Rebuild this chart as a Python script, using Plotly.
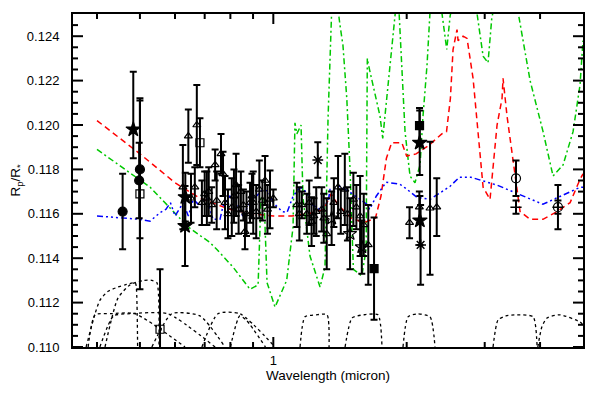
import math
import plotly.graph_objects as go

# ---------------- model curves ----------------
red_wl = [0.400, 0.500, 0.600, 0.683, 0.798, 0.900, 1.00, 1.10, 1.20, 1.30, 1.35, 1.40, 1.50, 1.60, 1.70,
          1.75, 1.80, 1.85, 1.95, 2.00, 2.10, 2.25, 2.40, 2.46, 2.51, 2.545, 2.598, 2.612, 2.681, 2.737,
          2.824, 2.899, 2.975, 3.084, 3.133, 3.199, 3.283, 3.30, 3.369, 3.458, 3.549, 3.605, 3.80, 4.06,
          4.37, 4.675, 4.923, 5.00]
red_val = [0.1202, 0.1187, 0.1174, 0.1167, 0.1162, 0.1160, 0.1159, 0.1159, 0.1160, 0.1162, 0.1169, 0.1164,
           0.1158, 0.1156, 0.1158, 0.1168, 0.1185, 0.1192, 0.1192, 0.1186, 0.1187, 0.1191, 0.1196, 0.1197,
           0.1212, 0.1234, 0.1243, 0.1238, 0.1240, 0.1239, 0.1221, 0.1197, 0.1172, 0.11665, 0.1180, 0.1200,
           0.1212, 0.1221, 0.1204, 0.1188, 0.1170, 0.1161, 0.11575, 0.11575, 0.1161, 0.1165, 0.11755, 0.1178]

green_wl = [0.400, 0.527, 0.643, 0.720, 0.745, 0.811, 0.886, 0.924, 0.938, 0.953, 0.968, 1.009, 1.072,
            1.108, 1.119, 1.130, 1.155, 1.167, 1.210, 1.275, 1.308, 1.329, 1.354, 1.38, 1.414, 1.436,
            1.465, 1.490, 1.516, 1.584, 1.620, 1.630, 1.640, 1.679, 1.741, 1.766, 1.803, 1.834, 1.882,
            1.91, 1.949, 1.983, 2.035, 2.088, 2.144, 2.177, 2.223, 2.258, 2.33, 2.400, 2.463, 2.506,
            2.70, 2.879, 2.975, 3.052, 3.112, 3.35, 3.567, 3.798, 4.063, 4.279, 4.508, 4.748, 4.923, 5.0]
green_val = [0.1189, 0.1172, 0.1154, 0.1147, 0.1144, 0.1136, 0.1126, 0.1128, 0.1167, 0.1167, 0.1129,
             0.1118, 0.1130, 0.1154, 0.1201, 0.1196, 0.1200, 0.1167, 0.1141, 0.1127, 0.1136, 0.1203,
             0.1251, 0.1262, 0.1245, 0.1236, 0.1212, 0.1180, 0.1135, 0.1132, 0.1144, 0.1230, 0.1227,
             0.1218, 0.1204, 0.1194, 0.1212, 0.1230, 0.1251, 0.1262, 0.1227, 0.1197, 0.1177, 0.1174,
             0.1182, 0.1204, 0.1227, 0.1251, 0.1265, 0.1251, 0.1234, 0.1249, 0.1280, 0.1251, 0.1231,
             0.1228, 0.1248, 0.1280, 0.1251, 0.1220, 0.1197, 0.1177, 0.1182, 0.1197, 0.1218, 0.1238]

blue_wl = [0.400, 0.500, 0.527, 0.555, 0.572, 0.586, 0.600, 0.626, 0.643, 0.660, 0.683, 0.707, 0.731,
           0.758, 0.770, 0.798, 0.827, 0.853, 0.886, 0.917, 0.948, 0.974, 1.000, 1.047, 1.074, 1.108,
           1.149, 1.190, 1.220, 1.275, 1.330, 1.343, 1.414, 1.490, 1.546, 1.625, 1.650, 1.707, 1.797,
           1.932, 2.004, 2.110, 2.258, 2.391, 2.506, 2.630, 2.790, 3.200, 3.600, 4.060, 4.920, 5.000]
blue_val = [0.1159, 0.11575, 0.11567, 0.11605, 0.1162, 0.1165, 0.1159, 0.1165, 0.1159, 0.11665, 0.11635,
            0.11673, 0.11575, 0.11575, 0.11635, 0.11679, 0.1165, 0.1159, 0.1165, 0.11679, 0.1171, 0.11701,
            0.1165, 0.1161, 0.11606, 0.11679, 0.11719, 0.11697, 0.11643, 0.1162, 0.11656, 0.1171, 0.11724,
            0.11697, 0.11674, 0.11643, 0.1162, 0.11679, 0.11742, 0.11733, 0.1171, 0.11674, 0.11665, 0.11697,
            0.11724, 0.11765, 0.11765, 0.11729, 0.11688, 0.11643, 0.11719, 0.1172]

# ---------------- filter response curves (scaled) ----------------
filters = {
    "T1": ([0.378, 0.396, 0.406, 0.423, 0.446, 0.463, 0.487, 0.490, 0.494],
           [0.110, 0.1115, 0.1121, 0.1125, 0.1127, 0.1128, 0.1129, 0.1128, 0.110]),
    "T2": ([0.417, 0.446, 0.475, 0.510, 0.532, 0.546, 0.552],
           [0.110, 0.1122, 0.1128, 0.1130, 0.1130, 0.1129, 0.110]),
    "L1": ([0.382, 0.396, 0.430, 0.487, 0.632],
           [0.110, 0.11145, 0.1115, 0.1115, 0.110]),
    "L2": ([0.406, 0.436, 0.475, 0.578, 0.739],
           [0.110, 0.1114, 0.1115, 0.1115, 0.110]),
    "L3": ([0.532, 0.590, 0.683, 0.778],
           [0.110, 0.1115, 0.1114, 0.110]),
    "L4": ([0.690, 0.750, 0.841, 1.009],
           [0.110, 0.1115, 0.1115, 0.110]),
    "L5": ([0.800, 0.840, 0.870, 0.960],
           [0.110, 0.1114, 0.1112, 0.110]),
    "J": ([1.149, 1.179, 1.250, 1.322, 1.336],
          [0.110, 0.11136, 0.11145, 0.11145, 0.110]),
    "H": ([1.452, 1.506, 1.600, 1.723, 1.759],
          [0.110, 0.11131, 0.11145, 0.11145, 0.110]),
    "K": ([1.962, 2.014, 2.111, 2.258, 2.317],
          [0.110, 0.11136, 0.11149, 0.11136, 0.110]),
    "IRAC1": ([3.133, 3.216, 3.350, 3.549, 3.858, 3.939],
              [0.110, 0.11122, 0.11140, 0.11145, 0.11136, 0.110]),
    "IRAC2": ([3.954, 4.037, 4.148, 4.438, 4.923, 5.0],
              [0.110, 0.1109, 0.11131, 0.11145, 0.11113, 0.1110]),
}

# ---------------- observations ----------------
circ_wl = [0.457, 0.500, 0.498]
circ_val = [0.1161, 0.1180, 0.1175]
circ_err = [0.0017, 0.0031, 0.0017]

star_wl = [0.483, 0.633, 0.632, 2.140, 2.142]
star_val = [0.1198, 0.11675, 0.11545, 0.1192, 0.1157]
star_errp = [0.0026, 0.0011, 0.0018, 0.00145, 0.0011]
star_errm = [0.0013, 0.0011, 0.0018, 0.00145, 0.0011]

sqo_wl = [0.500, 0.555, 0.683]
sqo_val = [0.1169, 0.1108, 0.1192]
sqo_err = [0.0043, 0.0027, 0.0011]

sqf_wl = [2.138, 1.688]
sqf_val = [0.11997, 0.11353]
sqf_err = [0.0008, 0.0023]

ast_wl = [1.260, 2.150]
ast_val = [0.11842, 0.1146]
ast_err = [0.0008, 0.0018]

cio_wl = [3.53, 4.39]
cio_val = [0.1176, 0.1163]
cio_err = [0.0008, 0.0010]

plus_wl = [3.53, 4.39]
plus_val = [0.1163, 0.1163]
plus_err = [0.0003, 0.0003]

sto_wl = [1.354, 1.490, 1.584]
sto_val = [0.1158, 0.1151, 0.1145]
sto_err = [0.0012, 0.0016, 0.0012]

tri_wl = [0.625, 0.643, 0.652, 0.672, 0.700, 0.708, 0.726, 0.739, 0.762, 0.778, 0.806, 0.824, 0.856,
          0.863, 0.886, 0.901, 0.930, 0.958, 0.983, 1.000, 1.130, 1.160, 1.190, 1.220, 1.250, 1.286,
          1.320, 1.400, 1.450, 1.516, 1.570, 1.638, 2.030, 2.136, 2.258, 2.338,
          0.665, 0.690, 0.715, 0.745, 0.770, 0.790, 0.815, 0.835, 0.845, 0.870, 0.895, 0.915, 0.945,
          0.970, 1.145, 1.205, 1.235, 1.300, 1.370, 1.420, 1.470, 1.540, 1.600]
tri_val = [0.1172, 0.1195, 0.1167, 0.1200, 0.1169, 0.1167, 0.1164, 0.1182, 0.1187, 0.1165, 0.1163,
           0.1173, 0.1164, 0.1152, 0.1165, 0.1165, 0.1171, 0.1175, 0.11665, 0.1167, 0.1164, 0.1164,
           0.1160, 0.11565, 0.1161, 0.1162, 0.1151, 0.1172, 0.1171, 0.11665, 0.1159, 0.1146, 0.1156,
           0.1163, 0.11625, 0.1163,
           0.1172, 0.1165, 0.1170, 0.1166, 0.1178, 0.1160, 0.1168, 0.1162, 0.1170, 0.1160, 0.1168,
           0.1161, 0.1166, 0.1162, 0.1160, 0.1165, 0.1159, 0.1158, 0.1165, 0.1161, 0.1160, 0.1163, 0.1155]
tri_err = [0.0019, 0.0012, 0.0011, 0.0018, 0.0010, 0.0012, 0.0008, 0.0007, 0.0009, 0.0012, 0.0013,
           0.0014, 0.0007, 0.0008, 0.0009, 0.0014, 0.0013, 0.0011, 0.0013, 0.0004, 0.0010, 0.0006,
           0.0009, 0.0011, 0.0011, 0.0010, 0.0016, 0.0014, 0.0016, 0.0012, 0.0018, 0.0018, 0.0007,
           0.0007, 0.0030, 0.0013,
           0.0009, 0.0010, 0.0011, 0.0013, 0.0010, 0.0011, 0.0012, 0.0011, 0.0009, 0.0010, 0.0010,
           0.0012, 0.0009, 0.0011, 0.0012, 0.0010, 0.0008, 0.0011, 0.0011, 0.0010, 0.0012, 0.0010, 0.0014]

# axis ticks
x_range = [0.3531, 5.0]
y_range = [0.110, 0.125]
x_major = [1]
x_minor = [0.4, 0.5, 0.6, 0.7, 0.8, 0.9, 2, 3, 4]
y_major = [0.110, 0.112, 0.114, 0.116, 0.118, 0.120, 0.122, 0.124]
y_minor = [0.1105 + 0.0005 * i for i in range(29) if (i + 1) % 4 != 0]

FONT = "Liberation Sans, Arial, Helvetica, sans-serif"
PLOT_W, PLOT_H = 510, 333          # plot-area size in px
MARGIN = dict(l=65, r=17, t=6, b=49, autoexpand=False)

fig = go.Figure()

for name, (wl, val) in filters.items():
    fig.add_trace(go.Scatter(x=wl, y=val, mode="lines", line=dict(color="black", width=1.3, dash="dot",
                                                                  shape="spline", smoothing=0.6),
                             hoverinfo="skip", showlegend=False))

fig.add_trace(go.Scatter(x=green_wl, y=green_val, mode="lines",
                         line=dict(color="#00c800", width=1.5, dash="6px,3px,2px,3px"), showlegend=False))
fig.add_trace(go.Scatter(x=red_wl, y=red_val, mode="lines",
                         line=dict(color="#ff0000", width=1.5, dash="6px,4px"), showlegend=False))
fig.add_trace(go.Scatter(x=blue_wl, y=blue_val, mode="lines",
                         line=dict(color="#0000ff", width=1.5, dash="6px,3px,2px,3px,2px,3px,2px,3px"),
                         showlegend=False))


def add_pts(wl, val, errp, symbol, size, errm=None, lw=1.2):
    ey = dict(type="data", array=errp, color="black", thickness=2, width=3.5)
    if errm is not None:
        ey["symmetric"] = False
        ey["arrayminus"] = errm
    fig.add_trace(go.Scatter(x=wl, y=val, mode="markers", error_y=ey,
                             marker=dict(symbol=symbol, size=size, color="black",
                                         line=dict(color="black", width=lw)),
                             showlegend=False))


add_pts(tri_wl, tri_val, tri_err, "triangle-up-open", 7)
add_pts(sto_wl, sto_val, sto_err, "star-open", 10)
add_pts(sqo_wl, sqo_val, sqo_err, "square-open", 8)
add_pts(circ_wl, circ_val, circ_err, "circle", 9)
add_pts(star_wl, star_val, star_errp, "star", 11, errm=star_errm)
add_pts(sqf_wl, sqf_val, sqf_err, "square", 8)
add_pts(ast_wl, ast_val, ast_err, "asterisk-open", 9, lw=1.5)
add_pts(cio_wl, cio_val, cio_err, "circle-open", 9)
add_pts(plus_wl, plus_val, plus_err, "cross-thin-open", 8, lw=1.5)

# ---- inside tick marks on all four sides, drawn as a line trace (lengths derived from axis scale) ----
decades = math.log10(x_range[1]) - math.log10(x_range[0])
px_to_xfac = lambda px: 10 ** (px * decades / PLOT_W)          # multiplicative step for px on log axis
px_to_dy = lambda px: px * (y_range[1] - y_range[0]) / PLOT_H
tx, ty = [], []
for vals, ln in [(x_major, 10), (x_minor, 5)]:
    for v in vals:
        tx += [v, v, None, v, v, None]
        ty += [y_range[0], y_range[0] + px_to_dy(ln), None, y_range[1], y_range[1] - px_to_dy(ln), None]
for vals, ln in [(y_major, 10), (y_minor, 5)]:
    for v in vals:
        tx += [x_range[0], x_range[0] * px_to_xfac(ln), None, x_range[1], x_range[1] / px_to_xfac(ln), None]
        ty += [v, v, None, v, v, None]
fig.add_trace(go.Scatter(x=tx, y=ty, mode="lines", line=dict(color="black", width=2),
                         hoverinfo="skip", showlegend=False, cliponaxis=False, connectgaps=False))

xr_log = [math.log10(x_range[0]), math.log10(x_range[1])]

# the page body adds an 8 px offset, so the figure is 592 x 388 with margins chosen accordingly
fig.update_layout(
    template="none",
    width=592, height=388,
    margin=MARGIN,
    paper_bgcolor="white", plot_bgcolor="white",
    font=dict(family=FONT, size=13, color="black"),
    showlegend=False,
    xaxis=dict(type="log", range=xr_log, showline=True, linecolor="black", linewidth=2, mirror=True,
               ticks="", tickmode="array", tickvals=x_major, ticktext=["1"],
               showgrid=False, zeroline=False, automargin=False,
               title=dict(text="Wavelength (micron)", font=dict(size=13.5), standoff=4),
               tickfont=dict(size=13)),
    yaxis=dict(range=y_range, showline=True, linecolor="black", linewidth=2, mirror=True,
               ticks="", tickmode="array", tickvals=y_major, tickformat=".3f",
               showgrid=False, zeroline=False, automargin=False,
               title=dict(text="R<sub>p</sub>/R<sub>*</sub>", font=dict(size=13.5), standoff=6),
               tickfont=dict(size=13), ticklabelstandoff=9),
)

fig.write_html("out.html")
